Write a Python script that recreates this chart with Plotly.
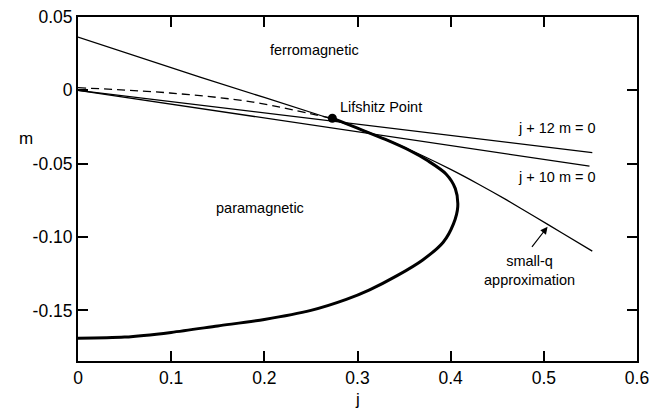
import plotly.graph_objects as go

# ---- data ----
# phase boundary (thick curve), from j=0 at the bottom round the nose to the Lifshitz point
boundary_j = [0.0, 0.05, 0.10, 0.15, 0.20, 0.25, 0.288, 0.313, 0.342, 0.370,
              0.392, 0.403, 0.4076, 0.405, 0.395, 0.376, 0.356, 0.330, 0.300, 0.273]
boundary_m = [-0.169, -0.1682, -0.1650, -0.1606, -0.1562, -0.1500, -0.1425, -0.1360, -0.1265, -0.1156,
              -0.1035, -0.091, -0.0794, -0.0670, -0.0570, -0.0482, -0.0410, -0.0335, -0.0258, -0.019]

# dashed curve ending at the Lifshitz point
dashed_j = [0.0, 0.0986, 0.188, 0.249, 0.273]
dashed_m = [0.0018, -0.0018, -0.008, -0.0159, -0.019]

# small-q approximation
smallq_j = [0.0, 0.131, 0.273, 0.31, 0.34, 0.37, 0.40, 0.43, 0.46, 0.49, 0.52, 0.552]
smallq_m = [0.0363, 0.009, -0.0197, -0.0282, -0.0360, -0.0446, -0.0539, -0.0640, -0.0747,
            -0.0860, -0.0974, -0.1096]

# straight lines j + 12 m = 0 and j + 10 m = 0 (as drawn)
line12_j = [0.0, 0.552]
line12_m = [0.0, -0.0424]
line10_j = [0.0, 0.549]
line10_m = [0.0, -0.0517]

# Lifshitz point
lifshitz_j = [0.273]
lifshitz_m = [-0.019]

x_tickvals = [0, 0.1, 0.2, 0.3, 0.4, 0.5, 0.6]
x_ticktext = ["0", "0.1", "0.2", "0.3", "0.4", "0.5", "0.6"]
y_tickvals = [0.05, 0, -0.05, -0.10, -0.15]
y_ticktext = ["0.05", "0", "-0.05", "-0.10", "-0.15"]

FONT = "Liberation Sans, Arial, Helvetica, sans-serif"

fig = go.Figure()
thin = dict(color="black", width=1.3)
fig.add_trace(go.Scatter(x=line12_j, y=line12_m, mode="lines", line=thin, hoverinfo="skip"))
fig.add_trace(go.Scatter(x=line10_j, y=line10_m, mode="lines", line=thin, hoverinfo="skip"))
fig.add_trace(go.Scatter(x=smallq_j, y=smallq_m, mode="lines",
                         line=dict(color="black", width=1.3, shape="spline", smoothing=0.6),
                         hoverinfo="skip"))
fig.add_trace(go.Scatter(x=dashed_j, y=dashed_m, mode="lines",
                         line=dict(color="black", width=1.3, dash="8px,5px", shape="spline"),
                         hoverinfo="skip"))
fig.add_trace(go.Scatter(x=boundary_j, y=boundary_m, mode="lines",
                         line=dict(color="black", width=3, shape="spline", smoothing=0.8),
                         hoverinfo="skip"))
fig.add_trace(go.Scatter(x=lifshitz_j, y=lifshitz_m, mode="markers",
                         marker=dict(color="black", size=9), hoverinfo="skip"))

ann_font = dict(family=FONT, size=14.5, color="black")
annotations = [
    dict(x=0.254, y=0.0272, text="ferromagnetic"),
    dict(x=0.2787, y=-0.0116, text="Lifshitz Point", xanchor="left"),
    dict(x=0.195, y=-0.0803, text="paramagnetic"),
    dict(x=0.5145, y=-0.0259, text="j + 12 m = 0"),
    dict(x=0.5145, y=-0.059, text="j + 10 m = 0"),
    dict(x=0.4845, y=-0.123, text="small-q<br>approximation"),
]
for a in annotations:
    fig.add_annotation(xref="x", yref="y", showarrow=False, font=ann_font,
                       xanchor=a.get("xanchor", "center"), yanchor="middle",
                       x=a["x"], y=a["y"], text=a["text"])

# arrow pointing at the small-q curve
fig.add_annotation(xref="x", yref="y", axref="x", ayref="y",
                   x=0.504, y=-0.093, ax=0.486, ay=-0.1077, text="",
                   showarrow=True, arrowhead=2, arrowsize=1.2, arrowwidth=1.2,
                   arrowcolor="black")

# axis labels (horizontal text, placed like the reference)
fig.add_annotation(xref="paper", yref="y", x=-0.109, y=-0.0327, text="m",
                   showarrow=False, font=dict(family=FONT, size=17, color="black"))
fig.add_annotation(xref="x", yref="paper", x=0.3, y=-0.112, text="j",
                   showarrow=False, yanchor="middle",
                   font=dict(family=FONT, size=17, color="black"))

axis_common = dict(showgrid=False, zeroline=False, showline=True, linecolor="black",
                   linewidth=2, mirror="ticks", ticks="inside", ticklen=10,
                   tickwidth=1.5, tickcolor="black", automargin=False,
                   ticklabeloverflow="allow",
                   tickfont=dict(family=FONT, size=17.5, color="black"))

fig.update_layout(
    width=649, height=409,
    margin=dict(l=78, r=12, t=17, b=48),
    paper_bgcolor="white", plot_bgcolor="white",
    showlegend=False,
    xaxis=dict(range=[0, 0.6], tickvals=x_tickvals, ticktext=x_ticktext,
               ticklabelstandoff=0, **axis_common),
    yaxis=dict(range=[-0.1845, 0.05], tickvals=y_tickvals, ticktext=y_ticktext,
               **axis_common),
)

fig.write_html("out.html")
